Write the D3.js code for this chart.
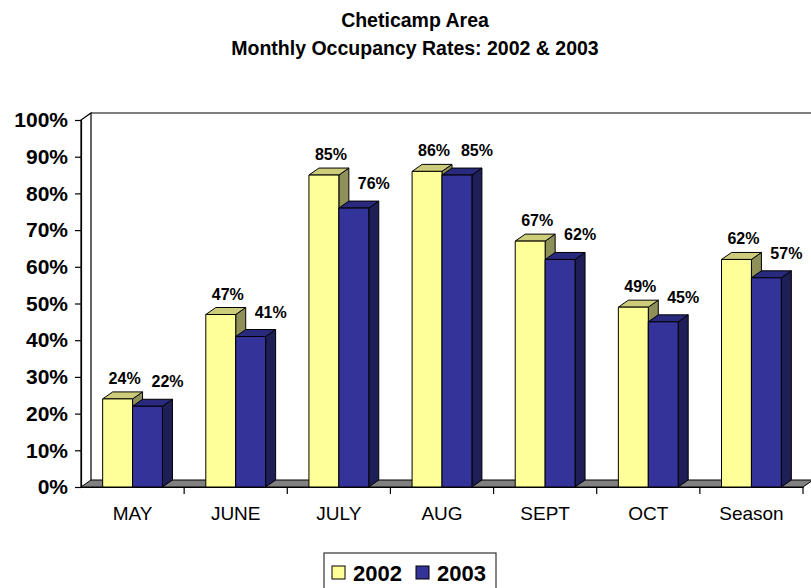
<!DOCTYPE html>
<html>
<head>
<meta charset="utf-8">
<script src="https://cdn.jsdelivr.net/npm/d3@7/dist/d3.min.js"></script>
<style>
  html, body { margin: 0; padding: 0; background: #fff; }
  svg { display: block; font-family: Arial, "Liberation Sans", sans-serif; }
</style>
</head>
<body>
<svg id="chart" width="811" height="588"></svg>
<script>
// Occupancy by month, Cheticamp area
const categories = ["MAY", "JUNE", "JULY", "AUG", "SEPT", "OCT", "Season"];
const series2002 = [24, 47, 85, 86, 67, 49, 62];
const series2003 = [22, 41, 76, 85, 62, 45, 57];
const seriesNames = ["2002", "2003"];
const yTicks = [0, 10, 20, 30, 40, 50, 60, 70, 80, 90, 100];
const titleLines = ["Cheticamp Area", "Monthly Occupancy Rates: 2002 & 2003"];

const svg = d3.select("#chart");

// plot geometry
const plotLeft = 81, plotRight = 803, plotBottom = 487, plotTop = 120;
const depthX = 10, depthY = -7;   // oblique offset for the 3D look

const x = d3.scaleBand().domain(categories).range([plotLeft, plotRight]).padding(0);
const y = d3.scaleLinear().domain([0, 100]).range([plotBottom, plotTop]);
const barW = x.bandwidth() * 0.29;

const palette = [
  { front: "#FFFF99", top: "#CCCC7A", side: "#8F8F5A" },
  { front: "#333399", top: "#29297D", side: "#1F1F57" }
];

// titles
svg.selectAll("text.title").data(titleLines).join("text")
  .attr("class", "title")
  .attr("x", 415).attr("y", (d, i) => 27 + i * 28)
  .attr("text-anchor", "middle")
  .attr("font-weight", "bold").attr("font-size", 19.5)
  .text(d => d);

const g = svg.append("g");

// side wall, back wall top edge
g.append("path")
  .attr("d", `M${plotLeft},${plotBottom} L${plotLeft},${plotTop} L${plotLeft + depthX},${plotTop + depthY} L${plotLeft + depthX},${plotBottom + depthY}`)
  .attr("fill", "#fff").attr("stroke", "#000").attr("stroke-width", 1.2);
g.append("line")
  .attr("x1", plotLeft + depthX).attr("y1", plotTop + depthY)
  .attr("x2", 811).attr("y2", plotTop + depthY)
  .attr("stroke", "#000").attr("stroke-width", 1.2);

// floor
g.append("path")
  .attr("d", `M${plotLeft},${plotBottom} L${plotRight},${plotBottom} L${plotRight + depthX},${plotBottom + depthY} L${plotLeft + depthX},${plotBottom + depthY} Z`)
  .attr("fill", "#808080").attr("stroke", "#000").attr("stroke-width", 1);

// y axis
const yAxis = d3.axisLeft(y).tickValues(yTicks).tickSize(6).tickPadding(7)
  .tickFormat(d => d + "%");
const ya = svg.append("g").attr("transform", `translate(${plotLeft},0)`).call(yAxis);
ya.select(".domain").attr("stroke", "#000").attr("stroke-width", 1.2);
ya.selectAll(".tick line").attr("stroke", "#000").attr("stroke-width", 1.2);
ya.selectAll(".tick text").attr("font-size", 21).attr("font-weight", "bold")
  .attr("font-family", "Arial, 'Liberation Sans', sans-serif").attr("fill", "#000");

// x axis
const xAxis = d3.axisBottom(x).tickSize(0).tickPadding(20);
const xa = svg.append("g").attr("transform", `translate(0,${plotBottom})`).call(xAxis);
xa.select(".domain").attr("stroke", "#000").attr("stroke-width", 1.2);
xa.selectAll(".tick text").attr("font-size", 19)
  .attr("font-family", "Arial, 'Liberation Sans', sans-serif").attr("fill", "#000");
// category separators
xa.selectAll("line.sep").data(categories).join("line")
  .attr("class", "sep")
  .attr("x1", d => x(d) + x.bandwidth()).attr("x2", d => x(d) + x.bandwidth())
  .attr("y1", 0).attr("y2", 7)
  .attr("stroke", "#000").attr("stroke-width", 1.2);

// bars
const allSeries = [series2002, series2003];
const bars = g.append("g");
categories.forEach((c, i) => {
  const cx = x(c) + x.bandwidth() / 2;
  allSeries.forEach((vals, s) => {
    const x0 = cx - barW + s * barW, x1 = x0 + barW;
    const yt = y(vals[i]);
    const col = palette[s];
    const grp = bars.append("g").attr("stroke", "#000").attr("stroke-width", 1).attr("stroke-linejoin", "round");
    grp.append("path")
      .attr("d", `M${x1},${plotBottom} L${x1},${yt} L${x1 + depthX},${yt + depthY} L${x1 + depthX},${plotBottom + depthY} Z`)
      .attr("fill", col.side);
    grp.append("path")
      .attr("d", `M${x0},${yt} L${x1},${yt} L${x1 + depthX},${yt + depthY} L${x0 + depthX},${yt + depthY} Z`)
      .attr("fill", col.top);
    grp.append("rect")
      .attr("x", x0).attr("y", yt).attr("width", barW).attr("height", plotBottom - yt)
      .attr("fill", col.front);
  });
});

// value labels
categories.forEach((c, i) => {
  const cx = x(c) + x.bandwidth() / 2;
  allSeries.forEach((vals, s) => {
    const x0 = cx - barW + s * barW;
    const lx = x0 + barW / 2 + (s === 0 ? 7 : 20);
    const ly = y(vals[i]) - (s === 0 ? 15 : 19);
    svg.append("text")
      .attr("x", lx).attr("y", ly)
      .attr("text-anchor", "middle")
      .attr("font-weight", "bold").attr("font-size", 16)
      .text(vals[i] + "%");
  });
});

// legend
const lg = svg.append("g");
lg.append("rect").attr("x", 324).attr("y", 553).attr("width", 172).attr("height", 40)
  .attr("fill", "#fff").attr("stroke", "#333").attr("stroke-width", 1.2);
const legendX = [332, 416];
seriesNames.forEach((n, s) => {
  lg.append("rect").attr("x", legendX[s]).attr("y", 566).attr("width", 13).attr("height", 13)
    .attr("fill", palette[s].front).attr("stroke", "#000").attr("stroke-width", 1);
  lg.append("text").attr("x", legendX[s] + 21).attr("y", 581)
    .attr("font-weight", "bold").attr("font-size", 22).text(n);
});
</script>
</body>
</html>
